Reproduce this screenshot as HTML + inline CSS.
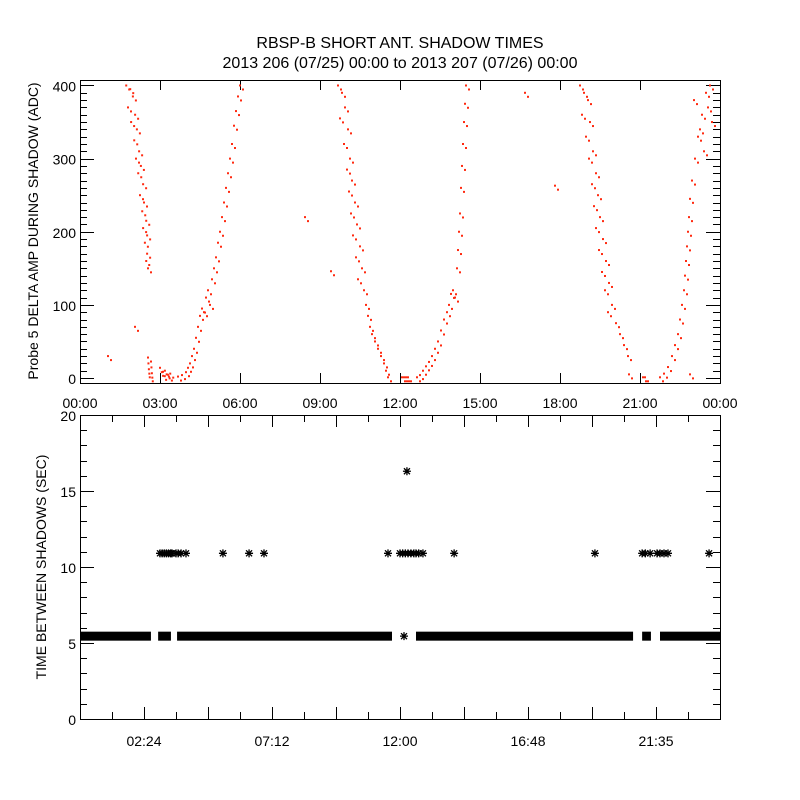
<!DOCTYPE html>
<html><head><meta charset="utf-8">
<style>
html,body{margin:0;padding:0;background:#fff;}
svg{display:block;font-family:"Liberation Sans",sans-serif;}
text{fill:#000;}
</style></head>
<body>
<svg id="chart" width="800" height="800" viewBox="0 0 800 800">
  <rect width="800" height="800" fill="#fff"/>
  <text x="400" y="48" text-anchor="middle" font-size="16">RBSP-B SHORT ANT. SHADOW TIMES</text>
  <text x="400" y="68" text-anchor="middle" font-size="16">2013 206 (07/25) 00:00 to 2013 207 (07/26) 00:00</text>
  <g id="topPanel"></g>
  <g id="botPanel"></g>
</svg>
<script>
// ---- top panel data (time in minutes after 00:00, value in ADC) ----
const topBranchA_t = [104,113,119,108,124,115,128,122,133,126,137,131,142,135,144,140,149,142,151,146,151,149,153,153,154,155,156,157];
const topBranchA_v = [400,395,385,370,360,350,340,325,310,300,290,280,265,250,240,228,215,205,195,185,170,160,150,28,20,12,6,1];
const topCluster3_t = [180,184,187,191,195,200,203];
const topCluster3_v = [14,8,3,10,5,2,6];
const topBranchB_t = [220.5,229.5,238.5,243,247.5,252,256.5,261,265.5,270,274.5,279,283.5,288,292.5,297,301.5,306,310.5,315,319.5,324,328.5,333,337.5,342,346.5,351,355.5,360];
const topBranchB_v = [2,4,8,14,20,30,40,55,70,85,95,90,110,120,100,135,150,165,185,200,220,240,260,280,300,320,345,365,385,400];
const topBranchC_t = [580.5,589.5,596.25,585,603,594,607.5,600.75,612,605.25,618.75,609.75,623.25,614.25,630,621,634.5,625.5,639,643.5,648,652.5,657,663.75,670.5,677.25,684,688.5,693,724.5,729,733.5,738];
const topBranchC_v = [400,390,370,355,340,320,300,285,270,255,240,225,210,195,180,165,150,135,120,100,85,70,60,50,40,30,20,10,1,1,1,1,1];
const topBranchD_t = [758.25,765,771.75,778.5,785.25,792,798.75,805.5,812.25,819,825.75,830.25,834.75,839.25,843.75,848.25,850.5,852.75,855,857.25,859.5,861.75,864,866.25,868.5];
const topBranchD_v = [1,4,10,16,22,30,40,50,65,80,90,100,115,120,110,150,175,200,225,260,290,320,350,375,400];
const topBranchE_t = [1125,1134,1143,1129.5,1147.5,1138.5,1154.25,1145.25,1161,1152,1165.5,1156.5,1170,1161,1176.75,1167.75,1183.5,1174.5,1190.25,1181.25,1197,1188,1206,1215,1224,1233,1235.25,1266.75,1271.25];
const topBranchE_v = [400,390,380,360,350,330,310,300,280,265,250,235,220,205,190,175,160,145,130,120,100,90,75,60,45,30,5,1,1];
const topBranchF_t = [1305,1314,1323,1332,1338.75,1345.5,1350,1354.5,1359,1361.25,1363.5,1365.75,1368,1370.25,1372.5,1377,1383.75,1390.5,1399.5,1408.5,1417.5,1395,1404,1413,1422,1381.5];
const topBranchF_v = [1,6,15,30,45,60,80,100,120,140,160,180,200,220,245,270,300,330,360,390,400,340,310,370,350,380];
const topStray_t = [63,123.75,506.25,564.75,1001.25,1068.75,1372.5];
const topStray_v = [30,70,220,146,390,263,5];
const topXTickLabels = ["00:00","03:00","06:00","09:00","12:00","15:00","18:00","21:00","00:00"];
const topYTickLabels = ["0","100","200","300","400"];

// ---- bottom panel data (time in hours, seconds) ----
const bandStart = [0,2.93,3.64,12.6,21.08,21.75];
const bandEnd   = [2.66,3.41,11.7,20.74,21.41,24];
const bandValue = 5.45;
const starTimes = [3.0,3.08,3.16,3.24,3.32,3.40,3.45,3.6,3.68,3.79,3.975,5.36,6.34,6.9,11.55,12.0,12.1,12.2,12.3,12.41,12.52,12.6,12.7,12.86,14.03,19.31,21.08,21.2,21.38,21.64,21.75,21.9,22.05,23.59,12.26,12.15];
const starValues= [10.9,10.9,10.9,10.9,10.9,10.9,10.9,10.9,10.9,10.9,10.9,10.9,10.9,10.9,10.9,10.9,10.9,10.9,10.9,10.9,10.9,10.9,10.9,10.9,10.9,10.9,10.9,10.9,10.9,10.9,10.9,10.9,10.9,10.9,16.3,5.45];
const botXTickLabels = ["02:24","07:12","12:00","16:48","21:35"];
const botYTickLabels = ["0","5","10","15","20"];

const NS="http://www.w3.org/2000/svg";
function mk(parent,tag,attrs){const e=document.createElementNS(NS,tag);for(const k in attrs)e.setAttribute(k,attrs[k]);parent.appendChild(e);return e;}

// ---- top panel ----
const T={l:80,r:720,t:80,b:383,ymin:-6.8,ymax:407.5};
const tx=m=>T.l+(m/1440)*(T.r-T.l);
const ty=v=>T.b-(v-T.ymin)/(T.ymax-T.ymin)*(T.b-T.t);
const topG=document.getElementById('topPanel');
const frame1=mk(topG,'rect',{x:T.l+0.5,y:T.t+0.5,width:T.r-T.l,height:T.b-T.t,fill:'none',stroke:'#000','stroke-width':1});


for(let v=0;v<=400;v+=10){
  const len=(v%100===0)?14:7;
  const y=Math.round(ty(v))+0.5;
  mk(topG,'line',{x1:T.l,x2:T.l+len,y1:y,y2:y,stroke:'#000'});
  mk(topG,'line',{x1:T.r,x2:T.r-len,y1:y,y2:y,stroke:'#000'});
}
topYTickLabels.forEach((s,i)=>{
  const t=mk(topG,'text',{x:T.l-4,y:ty(i*100)+6,'text-anchor':'end','font-size':14});
  t.textContent=s;
  
  
});
topXTickLabels.forEach((s,i)=>{
  const x=Math.round(tx(i*180))+0.5;
  mk(topG,'line',{x1:x,x2:x,y1:T.b,y2:T.b-10,stroke:'#000'});
  mk(topG,'line',{x1:x,x2:x,y1:T.t,y2:T.t+10,stroke:'#000'});
  const t=mk(topG,'text',{x:tx(i*180),y:T.b+25,'text-anchor':'middle','font-size':14});
  t.textContent=s;
  
  
});
const yt1=mk(topG,'text',{x:0,y:0,transform:'translate(38,231) rotate(-90)','text-anchor':'middle','font-size':14});
yt1.textContent='Probe 5 DELTA AMP DURING SHADOW (ADC)';


const branches=[[topBranchA_t,topBranchA_v],[topCluster3_t,topCluster3_v],[topBranchB_t,topBranchB_v],[topBranchC_t,topBranchC_v],[topBranchD_t,topBranchD_v],[topBranchE_t,topBranchE_v],[topBranchF_t,topBranchF_v],[topStray_t,topStray_v]];
const pts=mk(topG,'g',{fill:'#ff2a10'});


branches.forEach(([ts,vs])=>{
  ts.forEach((m,i)=>{
    const x=tx(m),y=ty(vs[i]);
    const d=mk(pts,'rect',{x:x-1,y:y-1,width:2,height:2});
    
    
    const d2=mk(pts,'rect',{x:x+2,y:y+3,width:2,height:2});
    
    
  });
});

// ---- bottom panel ----
const B={l:80,r:720,t:415,b:719,ymin:0,ymax:20};
const bx=h=>B.l+(h/24)*(B.r-B.l);
const by=v=>B.b-(v-B.ymin)/(B.ymax-B.ymin)*(B.b-B.t);
const botG=document.getElementById('botPanel');
const frame2=mk(botG,'rect',{x:B.l+0.5,y:B.t+0.5,width:B.r-B.l,height:B.b-B.t,fill:'none',stroke:'#000'});


for(let v=0;v<=20;v++){
  const len=(v%5===0)?14:7;
  const y=Math.round(by(v))+0.5;
  mk(botG,'line',{x1:B.l,x2:B.l+len,y1:y,y2:y,stroke:'#000'});
  mk(botG,'line',{x1:B.r,x2:B.r-len,y1:y,y2:y,stroke:'#000'});
}
botYTickLabels.forEach((s,i)=>{
  const t=mk(botG,'text',{x:B.l-4,y:by(i*5)+6,'text-anchor':'end','font-size':14});
  t.textContent=s;
  
  
});
for(let k=1;k<20;k++){
  const h=k*1.2;
  const len=(k%2===0)?12:7;
  const x=Math.round(bx(h))+0.5;
  mk(botG,'line',{x1:x,x2:x,y1:B.b,y2:B.b-len,stroke:'#000'});
  mk(botG,'line',{x1:x,x2:x,y1:B.t,y2:B.t+len,stroke:'#000'});
}
botXTickLabels.forEach((s,i)=>{
  const t=mk(botG,'text',{x:bx((i*2+1)*2.4),y:B.b+27,'text-anchor':'middle','font-size':14});
  t.textContent=s;
  
  
});
const yt2=mk(botG,'text',{x:0,y:0,transform:'translate(46,567) rotate(-90)','text-anchor':'middle','font-size':14});
yt2.textContent='TIME BETWEEN SHADOWS (SEC)';


bandStart.forEach((s,i)=>{
  const x1=bx(s),x2=bx(bandEnd[i]);
  const r=mk(botG,'rect',{x:x1,y:by(bandValue)-4.5,width:x2-x1,height:9,fill:'#000'});
  
  
});
starTimes.forEach((h,i)=>{
  const x=bx(h),y=by(starValues[i]);
  const s=mk(botG,'path',{d:`M${x-4} ${y}H${x+4}M${x} ${y-4}V${y+4}M${x-3} ${y-3}L${x+3} ${y+3}M${x-3} ${y+3}L${x+3} ${y-3}`,stroke:'#000','stroke-width':1.3,fill:'none'});
  
  
});
</script>
</body></html>
